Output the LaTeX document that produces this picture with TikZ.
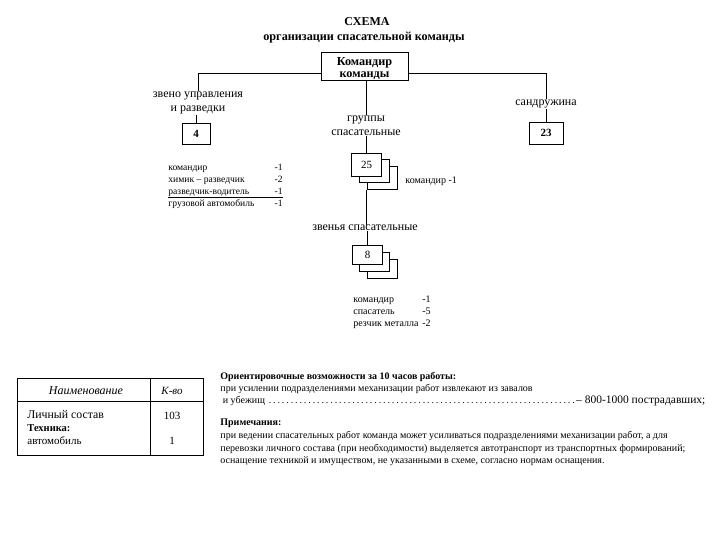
\documentclass[tikz,border=0pt]{standalone}
\usepackage{fontspec}
\setmainfont{Liberation Serif}
\usetikzlibrary{positioning}
\begin{document}
\begin{tikzpicture}[x=1pt,y=-1pt,line width=0.8pt,
  txt/.style={font=\fontsize{10}{12.5}\selectfont,inner sep=0pt},
  lbl/.style={font=\fontsize{12}{14}\selectfont,inner sep=0pt,align=center},
  smalltxt/.style={font=\fontsize{9.6}{12.5}\selectfont,inner sep=0pt},
  unitbox/.style={draw,fill=white,minimum width=30pt,minimum height=21pt,
    inner sep=0pt,font=\fontsize{11}{13}\selectfont}]
  % frame
  \useasboundingbox (0,0) rectangle (720,540);
  % title
  \node[font=\fontsize{12}{14}\selectfont\bfseries,inner sep=0pt] (title) at (367,22) {СХЕМА};
  \node[font=\fontsize{12.2}{14}\selectfont\bfseries,inner sep=0pt] (subtitle) at (364,38) {организации спасательной команды};
  % commander
  \node[draw,minimum width=87pt,minimum height=28pt,inner sep=0pt] (cmd) at (364.5,66) {};
  \node[align=center,inner sep=0pt,font=\fontsize{12.2}{12.5}\selectfont\bfseries] (cmdtxt) at (364.5,68.5) {Командир\\команды};
  % groups
  \node[lbl] (zv) at (198,103) {звено управления\\и разведки};
  \node[unitbox,minimum width=28pt,font=\fontsize{11}{13}\selectfont\bfseries] (b4) at (196,133.5) {4};
  \node[lbl] (sd) at (546,104) {сандружина};
  \node[unitbox,minimum width=34pt,minimum height=22pt,font=\fontsize{11}{13}\selectfont\bfseries] (b23) at (546,133) {23};
  \node[lbl,font=\fontsize{12}{14.5}\selectfont] (grp) at (366,125.5) {группы\\спасательные};
  \node[unitbox,minimum height=23pt] (g3) at (382,178) {};
  \node[unitbox,minimum height=23pt] (g2) at (374.5,171) {};
  \node[unitbox,minimum height=23pt] (g1) at (366.5,164.5) {25};
  \node[txt,anchor=west] (gcmd) at (405,181) {командир -1};
  \node[lbl] (zs) at (365,228) {звенья спасательные};
  \node[unitbox,minimum height=19pt] (u3) at (382,268.5) {};
  \node[unitbox,minimum height=19pt] (u2) at (374.5,261.5) {};
  \node[unitbox,minimum height=19pt] (u1) at (367.5,254.5) {8};
  % connectors
  \draw ([yshift=-7pt]cmd.west) -| (zv.north);
  \draw ([yshift=-7pt]cmd.east) -| (sd.north);
  \draw (cmd.south -| g1.north) -- (grp.north -| g1.north);
  \draw (zv.south -| b4.north) -- (b4.north);
  \draw (sd.south) -- (b23.north);
  \draw (grp.south -| g1.north) -- (g1.north);
  \draw (g1.south |- g3.south) -- (zs.north -| g1.south);
  \draw (zs.south -| u1.north) -- (u1.north);
  % staff lists
  \foreach \t/\n/\y in {командир/-1/171,химик -- разведчик/-2/183,разведчик-водитель/-1/195,грузовой автомобиль/-1/207} {
    \node[smalltxt,anchor=base west] (zl\y) at (168,\y) {\t};
    \node[smalltxt,anchor=base east] (zn\y) at (283,\y) {\n};
  };
  \draw[line width=0.6pt] (zl195.base west) ++(0,2.5) -- (zn195.base east |- 0,197.5);
  \foreach \t/\n/\y in {командир/-1/302,спасатель/-5/314,резчик металла/-2/326} {
    \node[txt,anchor=base west] (ul\y) at (353,\y) {\t};
    \node[txt,anchor=base east] (un\y) at (431,\y) {\n};
  };
  % table
  \draw (17,378) rectangle (203,455);
  \draw (17,401) -- (203,401);
  \draw (150,378) -- (150,455);
  \node[txt,font=\fontsize{12}{14}\selectfont\itshape] (th1) at (86,391) {Наименование};
  \node[txt,font=\fontsize{11}{14}\selectfont\itshape] (th2) at (172,391) {К-во};
  \node[txt,anchor=west,font=\fontsize{11.8}{14}\selectfont] (r1) at (27,415) {Личный состав};
  \node[txt,anchor=west,font=\fontsize{10.5}{12}\selectfont\bfseries] (r2) at (27,428) {Техника:};
  \node[txt,anchor=west,font=\fontsize{11}{12}\selectfont] (r3) at (27,441) {автомобиль};
  \node[txt,font=\fontsize{11}{12}\selectfont] (n1) at (172,416) {103};
  \node[txt,font=\fontsize{11}{12}\selectfont] (n2) at (172,441) {1};
  % notes
  \node[txt,anchor=west,font=\fontsize{10}{12}\selectfont\bfseries] (ab) at (220,377) {Ориентировочные возможности за 10 часов работы:};
  \node[txt,anchor=west] (ab1) at (220,389) {при усилении подразделениями механизации работ извлекают из завалов};
  \node[txt,anchor=west] (ab2) at (220,401) {\hbox to 485pt{\ и убежищ \dotfill{}\fontsize{11.5}{12}\selectfont – 800-1000 пострадавших;}};
  \node[txt,anchor=west,font=\fontsize{10}{12}\selectfont\bfseries] (pr) at (220,423) {Примечания:};
  \node[txt,anchor=north west,align=left] (pr1) at (220,431) {при ведении спасательных работ команда может усиливаться подразделениями механизации работ, а для\\
    перевозки личного состава (при необходимости) выделяется автотранспорт из транспортных формирований;\\
    оснащение техникой и имуществом, не указанными в схеме, согласно нормам оснащения.};
\end{tikzpicture}
\end{document}
